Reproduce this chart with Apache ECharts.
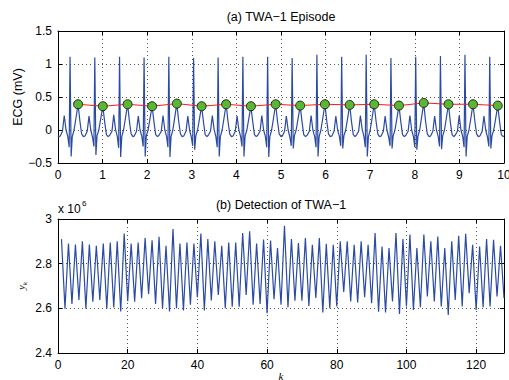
<!DOCTYPE html>
<html><head><meta charset="utf-8">
<script src="https://cdn.jsdelivr.net/npm/echarts@6/dist/echarts.min.js"></script>
<style>html,body{margin:0;padding:0;background:#fff}#c{width:509px;height:380px}</style>
</head><body><div id="c"></div>
<script>
// ---- (a) ECG episode: [time s, mV] samples ----
const ecgSamples = [
[0,-0.09],[0.02,-0.10],
[0.05,-0.09],[0.10,-0.02],[0.14,0.22],[0.18,0.00],[0.22,-0.10],[0.25,-0.26],[0.27,1.11],[0.295,-0.40],[0.32,-0.10],[0.36,0.00],[0.40,0.17],[0.45,0.39],[0.49,0.14],[0.53,-0.06],[0.57,-0.10],
[0.605,-0.09],[0.655,-0.02],[0.695,0.21],[0.735,0.00],[0.775,-0.11],[0.805,-0.25],[0.825,1.10],[0.85,-0.38],[0.875,-0.09],[0.915,0.00],[0.955,0.16],[1.005,0.36],[1.045,0.13],[1.085,-0.07],[1.125,-0.10],
[1.16,-0.08],[1.21,-0.02],[1.25,0.23],[1.29,0.01],[1.33,-0.10],[1.36,-0.27],[1.38,1.11],[1.405,-0.41],[1.43,-0.10],[1.47,0.00],[1.51,0.17],[1.56,0.39],[1.60,0.14],[1.64,-0.06],[1.68,-0.10],
[1.71,-0.09],[1.76,-0.02],[1.80,0.21],[1.84,0.00],[1.88,-0.10],[1.91,-0.25],[1.93,1.10],[1.955,-0.40],[1.98,-0.09],[2.02,0.00],[2.06,0.16],[2.11,0.36],[2.15,0.13],[2.19,-0.07],[2.23,-0.10],
[2.265,-0.08],[2.315,-0.02],[2.355,0.22],[2.395,0.00],[2.435,-0.10],[2.465,-0.26],[2.485,1.11],[2.51,-0.41],[2.535,-0.10],[2.575,0.00],[2.615,0.18],[2.665,0.40],[2.705,0.14],[2.745,-0.06],[2.785,-0.10],
[2.82,-0.09],[2.87,-0.02],[2.91,0.21],[2.95,0.00],[2.99,-0.11],[3.02,-0.24],[3.04,1.09],[3.065,-0.30],[3.09,-0.09],[3.13,0.00],[3.17,0.16],[3.22,0.36],[3.26,0.13],[3.30,-0.07],[3.34,-0.10],
[3.37,-0.08],[3.42,-0.02],[3.46,0.22],[3.50,0.01],[3.54,-0.10],[3.57,-0.26],[3.59,1.10],[3.615,-0.40],[3.64,-0.10],[3.68,0.00],[3.72,0.17],[3.77,0.39],[3.81,0.14],[3.85,-0.06],[3.89,-0.10],
[3.925,-0.09],[3.975,-0.02],[4.015,0.21],[4.055,0.00],[4.095,-0.10],[4.125,-0.25],[4.145,1.11],[4.17,-0.40],[4.195,-0.09],[4.235,0.00],[4.275,0.16],[4.325,0.36],[4.365,0.13],[4.405,-0.07],[4.445,-0.10],
[4.48,-0.08],[4.53,-0.02],[4.57,0.22],[4.61,0.00],[4.65,-0.10],[4.68,-0.26],[4.70,1.11],[4.725,-0.41],[4.75,-0.10],[4.79,0.00],[4.83,0.17],[4.88,0.39],[4.92,0.14],[4.96,-0.06],[5.00,-0.10],
[5.03,-0.09],[5.08,-0.02],[5.12,0.21],[5.16,0.00],[5.20,-0.11],[5.23,-0.24],[5.25,1.09],[5.275,-0.28],[5.30,-0.09],[5.34,0.00],[5.38,0.16],[5.43,0.37],[5.47,0.13],[5.51,-0.07],[5.55,-0.10],
[5.585,-0.08],[5.635,-0.02],[5.675,0.22],[5.715,0.00],[5.755,-0.10],[5.785,-0.26],[5.805,1.14],[5.83,-0.40],[5.855,-0.10],[5.895,0.00],[5.935,0.17],[5.985,0.39],[6.025,0.14],[6.065,-0.06],[6.105,-0.10],
[6.14,-0.09],[6.19,-0.02],[6.23,0.21],[6.27,0.00],[6.31,-0.10],[6.34,-0.24],[6.36,1.11],[6.385,-0.28],[6.41,-0.09],[6.45,0.00],[6.49,0.16],[6.54,0.38],[6.58,0.13],[6.62,-0.07],[6.66,-0.10],
[6.69,-0.08],[6.74,-0.02],[6.78,0.22],[6.82,0.01],[6.86,-0.10],[6.89,-0.26],[6.91,1.14],[6.935,-0.40],[6.96,-0.10],[7.00,0.00],[7.04,0.17],[7.09,0.39],[7.13,0.14],[7.17,-0.06],[7.21,-0.10],
[7.245,-0.09],[7.295,-0.02],[7.335,0.21],[7.375,0.00],[7.415,-0.11],[7.445,-0.24],[7.465,1.09],[7.49,-0.28],[7.515,-0.09],[7.555,0.00],[7.595,0.16],[7.645,0.37],[7.685,0.13],[7.725,-0.07],[7.765,-0.10],
[7.80,-0.08],[7.85,-0.02],[7.89,0.22],[7.93,0.00],[7.97,-0.10],[8.00,-0.26],[8.02,1.11],[8.045,-0.30],[8.07,-0.10],[8.11,0.00],[8.15,0.18],[8.20,0.41],[8.24,0.14],[8.28,-0.06],[8.32,-0.10],
[8.355,-0.09],[8.405,-0.02],[8.445,0.21],[8.485,0.00],[8.525,-0.10],[8.555,-0.25],[8.575,1.12],[8.60,-0.29],[8.625,-0.09],[8.665,0.00],[8.705,0.17],[8.755,0.39],[8.795,0.13],[8.835,-0.07],[8.875,-0.10],
[8.905,-0.08],[8.955,-0.02],[8.995,0.22],[9.035,0.00],[9.075,-0.10],[9.105,-0.26],[9.125,1.14],[9.15,-0.40],[9.175,-0.10],[9.215,0.00],[9.255,0.17],[9.305,0.39],[9.345,0.14],[9.385,-0.06],[9.425,-0.10],
[9.46,-0.09],[9.51,-0.02],[9.55,0.21],[9.59,0.00],[9.63,-0.11],[9.66,-0.25],[9.68,1.11],[9.705,-0.28],[9.73,-0.09],[9.77,0.00],[9.81,0.16],[9.86,0.37],[9.90,0.13],[9.94,-0.07],[9.98,-0.10],[10.0,-0.09]
];

// T-wave apexes (green markers, red connecting line)
const twaTime  = [0.45,1.005,1.56,2.11,2.665,3.22,3.77,4.325,4.88,5.43,5.985,6.54,7.09,7.645,8.20,8.755,9.305,9.86];
const twaValue = [0.39,0.36,0.39,0.36,0.40,0.36,0.39,0.36,0.39,0.37,0.39,0.38,0.39,0.37,0.41,0.39,0.39,0.37];

// ---- (b) detection statistic y_k (x 10^6), k = 1..128 ----
const ykValues = [
2.910,2.598,2.890,2.620,2.886,2.638,2.900,2.598,2.886,2.630,
2.880,2.638,2.890,2.598,2.895,2.604,2.900,2.586,2.935,2.632,
2.890,2.630,2.895,2.645,2.915,2.664,2.905,2.620,2.920,2.600,
2.880,2.586,2.955,2.600,2.890,2.590,2.895,2.616,2.890,2.650,
2.935,2.590,2.910,2.635,2.900,2.660,2.880,2.600,2.895,2.607,
2.895,2.607,2.937,2.660,2.945,2.616,2.890,2.620,2.908,2.578,
2.904,2.641,2.870,2.616,2.970,2.605,2.910,2.634,2.892,2.634,
2.915,2.611,2.885,2.646,2.915,2.581,2.889,2.601,2.885,2.608,
2.900,2.673,2.900,2.631,2.885,2.626,2.900,2.650,2.885,2.623,
2.937,2.585,2.877,2.581,2.870,2.631,2.937,2.575,2.910,2.608,
2.930,2.593,2.870,2.605,2.930,2.653,2.900,2.631,2.922,2.608,
2.870,2.570,2.900,2.638,2.925,2.608,2.934,2.668,2.885,2.593,
2.877,2.605,2.910,2.608,2.907,2.653,2.880,2.646
];

// tick settings
const ecgXTicks = {min:0, max:10, interval:1};
const ecgYTicks = {min:-0.5, max:1.5, interval:0.5};
const ykXTicks  = {min:0, max:128, interval:20};
const ykYTicks  = {min:2.4, max:3.0, interval:0.2};

const FONT = '"Liberation Sans", Arial, Helvetica, sans-serif';
const SERIF = '"Liberation Serif", "DejaVu Serif", serif';
const BLUE = '#2b4ba3';

function axis(gridIndex, ticks, position, main, extra) {
  return Object.assign({
    type:'value', gridIndex, position,
    min:ticks.min, max:ticks.max, interval:ticks.interval,
    nameMoveOverlap:false,
    axisLine:{show:true, onZero:false, lineStyle:{color:'#000', width:1}},
    axisTick:{show:true, inside:true, length:4, lineStyle:{color:'#000', width:1}},
    axisLabel:{show:main, color:'#000', fontSize:12, fontFamily:FONT, margin:6},
    splitLine:{show:main, lineStyle:{color:'#555', width:1, type:[1,3]}}
  }, extra || {});
}
const minus = v => (v < 0 ? '\u2212' : '') + String(Math.abs(Math.round(v*10)/10));

const chart = echarts.init(document.getElementById('c'), null, {renderer:'svg'});
chart.setOption({
  animation:false,
  backgroundColor:'#fff',
  grid:[
    {left:58, right:5, top:31, height:132, outerBoundsMode:'none', containLabel:false},
    {left:58, right:5, top:219, height:134, outerBoundsMode:'none', containLabel:false}
  ],
  xAxis:[
    axis(0, ecgXTicks, 'bottom', true),
    axis(0, ecgXTicks, 'top', false),
    axis(1, ykXTicks, 'bottom', true, {
      name:'k', nameLocation:'middle', nameGap:17,
      nameTextStyle:{fontFamily:SERIF, fontStyle:'italic', fontSize:11, color:'#000'}
    }),
    axis(1, ykXTicks, 'top', false)
  ],
  yAxis:[
    axis(0, ecgYTicks, 'left', true, {
      name:'ECG (mV)', nameLocation:'middle', nameGap:34, nameRotate:90,
      nameTextStyle:{fontFamily:FONT, fontSize:12.5, color:'#000'}
    }),
    axis(0, ecgYTicks, 'right', false),
    axis(1, ykYTicks, 'left', true, {
      name:'{y|y}{k|k}', nameLocation:'middle', nameGap:30, nameRotate:90,
      nameTextStyle:{color:'#000', rich:{
        y:{fontFamily:SERIF, fontStyle:'italic', fontSize:10, lineHeight:12, verticalAlign:'top'},
        k:{fontFamily:SERIF, fontStyle:'italic', fontSize:7, lineHeight:12, verticalAlign:'bottom'}
      }}
    }),
    axis(1, ykYTicks, 'right', false)
  ],
  graphic:[
    {type:'text', x:281, y:17, style:{text:'(a) TWA\u22121 Episode', font:'12.5px ' + FONT, fill:'#000', align:'center', verticalAlign:'middle'}},
    {type:'text', x:281, y:205, style:{text:'(b) Detection of TWA\u22121', font:'12.5px ' + FONT, fill:'#000', align:'center', verticalAlign:'middle'}},
    {type:'text', x:58, y:209, style:{text:'x 10', font:'12px ' + FONT, fill:'#000', align:'left', verticalAlign:'middle'}},
    {type:'text', x:82, y:203, style:{text:'6', font:'8px ' + FONT, fill:'#000', align:'left', verticalAlign:'middle'}}
  ],
  series:[
    {type:'line', xAxisIndex:0, yAxisIndex:0, data:ecgSamples, showSymbol:false, symbol:'none',
     lineStyle:{color:BLUE, width:1.2}, z:2},
    {type:'line', xAxisIndex:0, yAxisIndex:0, data:twaTime.map((t,i)=>[t, twaValue[i]]),
     symbol:'circle', symbolSize:9, showSymbol:true,
     itemStyle:{color:'#5cb636', borderColor:'#1c2c12', borderWidth:1},
     lineStyle:{color:'#ff1a1a', width:1}, z:3},
    {type:'line', xAxisIndex:2, yAxisIndex:2, data:ykValues.map((v,i)=>[i+1, v]), showSymbol:false, symbol:'none',
     lineStyle:{color:BLUE, width:1.2}, z:2}
  ]
});
// axis label formatters
chart.setOption({
  xAxis:[{}, {}, {axisLabel:{formatter: v => (v === 128 ? '' : String(v))}}, {}],
  yAxis:[{axisLabel:{formatter: minus}}, {}, {axisLabel:{formatter: v => String(Math.round(v*10)/10)}}, {}]
});
</script>
</body></html>
